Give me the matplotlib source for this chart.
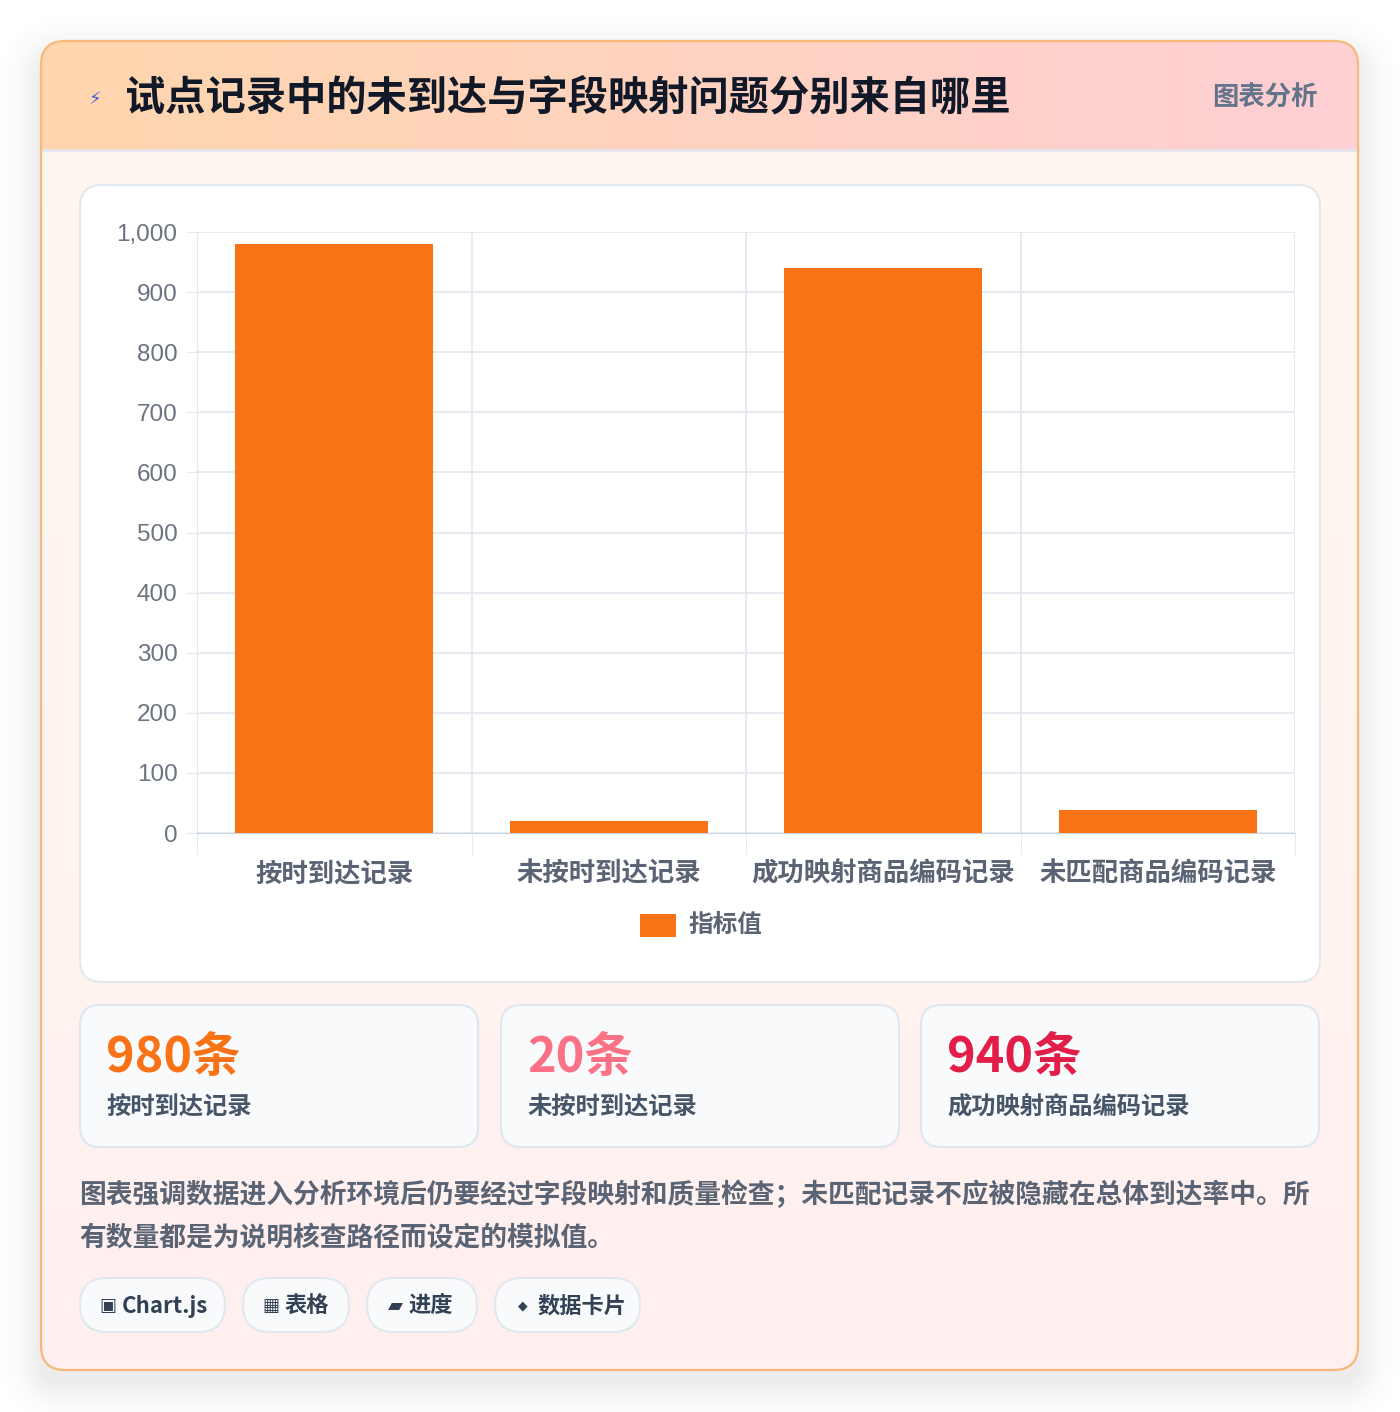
import numpy as np
import matplotlib
matplotlib.use("Agg")
import matplotlib.pyplot as plt
from matplotlib.patches import FancyBboxPatch, Rectangle

plt.rcParams["font.family"] = ["Noto Sans CJK SC", "DejaVu Sans"]

# Data
categories = ["按时到达记录", "未按时到达记录", "成功映射商品编码记录", "未匹配商品编码记录"]
values = [980, 20, 940, 38]
series_name = "指标值"
stat_values = ["980条", "20条", "940条"]
stat_labels = ["按时到达记录", "未按时到达记录", "成功映射商品编码记录"]
stat_colors = ["#f97316", "#fb7185", "#e11d48"]
tag_icons = ["▣", "▦", "▰", "◆"]
tag_texts = ["Chart.js", "表格", "进度", "数据卡片"]
title = "试点记录中的未到达与字段映射问题分别来自哪里"
note = ["图表强调数据进入分析环境后仍要经过字段映射和质量检查；未匹配记录不应被隐藏在总体到达率中。所",
        "有数量都是为说明核查路径而设定的模拟值。"]

W, H = 1400, 1412
fig = plt.figure(figsize=(W / 100, H / 100), dpi=100)
bg = fig.add_axes([0, 0, 1, 1])
bg.set_xlim(0, W)
bg.set_ylim(H, 0)
bg.axis("off")

# soft shadow
for i, a in enumerate(np.linspace(0.012, 0.002, 10)):
    d = 4 + i * 4
    bg.add_patch(FancyBboxPatch((41 - d, 45 - d + 12), 1317 + 2 * d, 1325 + 2 * d,
                                boxstyle="round,pad=0,rounding_size=%d" % (24 + d),
                                fc="black", ec="none", alpha=a, zorder=0))

# card body gradient
card = FancyBboxPatch((41, 41), 1317, 1329, boxstyle="round,pad=0,rounding_size=24",
                      fc="none", ec="#f6b97a", lw=1.6, zorder=3)
grad = np.linspace(0, 1, 256)[:, None]
body_cmap = matplotlib.colors.LinearSegmentedColormap.from_list("b", ["#fff8ef", "#fff0f0"])
im = bg.imshow(grad, extent=(41, 1358, 1370, 41), cmap=body_cmap, aspect="auto", zorder=1)
im.set_clip_path(card)
head_cmap = matplotlib.colors.LinearSegmentedColormap.from_list("h", ["#fed6ad", "#fecfd4"])
im2 = bg.imshow(np.linspace(0, 1, 256)[None, :], extent=(41, 1358, 150, 41), cmap=head_cmap,
                aspect="auto", zorder=1.5)
im2.set_clip_path(card)
bg.plot([41, 1358], [150, 150], color="#e3e6ee", lw=2, zorder=2)
bg.add_patch(card)

bg.text(95, 100, "⚡", fontsize=13, color="#3b5bdb", ha="center", va="center", zorder=4)
bg.text(125, 98, title, fontsize=29, fontweight="bold", color="#111827", va="center", zorder=4)
bg.text(1318, 98, "图表分析", fontsize=19, fontweight="bold", color="#64748b", ha="right",
        va="center", zorder=4)

# chart panel
bg.add_patch(FancyBboxPatch((80, 185), 1240, 797, boxstyle="round,pad=0,rounding_size=22",
                            fc="white", ec="#e2e8f0", lw=1.5, zorder=2))

# bar chart
ax = fig.add_axes([197 / W, 1 - 833 / H, (1295 - 197) / W, (833 - 232) / H])
x = np.arange(len(categories))
ax.bar(x, values, width=0.72, color="#f97316", zorder=3)
ax.set_xlim(-0.5, len(categories) - 0.5)
ax.set_ylim(0, 1000)
ax.set_yticks(range(0, 1001, 100))
ax.set_yticklabels([f"{v:,}" for v in range(0, 1001, 100)], fontsize=17.5, color="#6b7280",
                   family=["Liberation Sans", "DejaVu Sans"])
ax.set_xticks(x)
ax.set_xticklabels(categories, fontsize=19, fontweight="bold", color="#5b6475")
ax.set_xticks(np.arange(-0.5, len(categories)), minor=True)
ax.grid(axis="y", color="#e2e8f0", lw=1.2, zorder=0)
ax.grid(axis="x", which="minor", color="#e2e8f0", lw=1.2, zorder=0)
ax.tick_params(axis="x", which="major", length=0, pad=20)
ax.tick_params(axis="x", which="minor", length=16, color="#e2e8f0")
ax.tick_params(axis="y", length=8, color="#e2e8f0", pad=6)
for s in ["top", "right"]:
    ax.spines[s].set_visible(False)
ax.spines["left"].set_color("#e2e8f0")
ax.spines["bottom"].set_color("#cbd5e1")
ax.set_facecolor("none")

# legend
bg.add_patch(Rectangle((640, 914), 36, 23, fc="#f97316", ec="none", zorder=4))
bg.text(688, 925, series_name, fontsize=17.7, fontweight="bold", color="#5b6475", va="center", zorder=4)

# stat cards
for i, (sx, v, lab, c) in enumerate(zip([80, 501, 921], stat_values, stat_labels, stat_colors)):
    bg.add_patch(FancyBboxPatch((sx, 1005), 398, 142, boxstyle="round,pad=0,rounding_size=20",
                                fc="#f9fafc", ec="#dfe6f0", lw=1.5, zorder=2))
    bg.text(sx + 26, 1058, v, fontsize=35, fontweight="bold", color=c, va="center", zorder=4)
    bg.text(sx + 26, 1108, lab, fontsize=17.5, fontweight="bold", color="#475569", va="center", zorder=4)

# note
for j, line in enumerate(note):
    bg.text(79, 1195 + j * 42, line, fontsize=19.3, fontweight="bold", color="#5b6475",
            va="center", zorder=4)

# tags
for tx, tw, icon, t, isz in zip([80, 243, 367, 495], [145, 106, 110, 145], tag_icons, tag_texts,
                                [13, 13, 14, 9]):
    bg.add_patch(FancyBboxPatch((tx, 1278), tw, 54, boxstyle="round,pad=0,rounding_size=27",
                                fc="#f8fafc", ec="#e2e8f0", lw=1.5, zorder=2))
    bg.text(tx + 28, 1306, icon, fontsize=isz, color="#334155", ha="center", va="center",
            family=["DejaVu Sans"], zorder=4)
    bg.text(tx + 42, 1306, t, fontsize=16, fontweight="bold", color="#334155",
            ha="left", va="center", zorder=4)

fig.savefig("out.png", dpi=100)
